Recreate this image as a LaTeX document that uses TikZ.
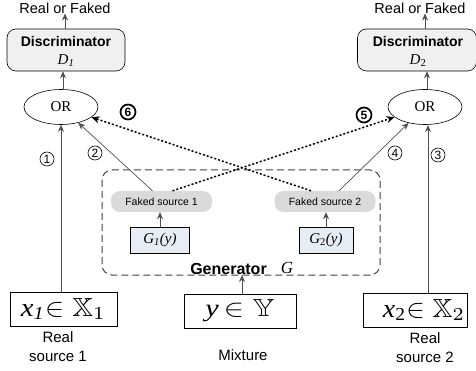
\documentclass[tikz,border=0pt]{standalone}
\usepackage{amssymb}
\usepackage{graphicx}
\usepackage{fontspec}
\setmainfont{Liberation Sans}
\newfontfamily\serif{Liberation Serif}
\usetikzlibrary{arrows.meta,calc,shapes.geometric}
\definecolor{arrgray}{HTML}{505050}
\definecolor{discfill}{HTML}{F0F0F0}
\definecolor{fsfill}{HTML}{DADADA}
\definecolor{gfill}{HTML}{E8ECF4}
\definecolor{dashgray}{HTML}{404040}
\begin{document}
\begin{tikzpicture}[x=1pt,y=-1pt,
 arr/.style={draw=arrgray,line width=0.7pt,-{Stealth[length=7pt,width=6pt]}},
 dotarr/.style={draw=black,line width=1.5pt,dash pattern=on 2pt off 2pt,-{Stealth[length=8pt,width=7pt]}},
 disc/.style={draw=black,fill=discfill,rounded corners=9pt,minimum width=118pt,minimum height=42pt,inner sep=0pt,line width=0.6pt},
 ornode/.style={draw,ellipse,minimum width=74pt,minimum height=35pt,inner sep=0pt,line width=0.6pt,font=\serif\fontsize{15}{15}\selectfont},
 fs/.style={fill=fsfill,rounded corners=9pt,minimum width=101pt,minimum height=21pt,inner sep=0pt,font=\fontsize{10.5}{10.5}\selectfont},
 gbox/.style={draw,fill=gfill,minimum height=26pt,inner sep=0pt,line width=0.6pt,font=\serif\itshape\fontsize{15}{15}\selectfont},
 inbox/.style={draw,minimum height=34pt,inner sep=0pt,line width=0.6pt},
 dtitle/.style={font=\bfseries\fontsize{14}{14}\selectfont,inner sep=0pt},
 dname/.style={font=\serif\itshape\fontsize{15}{15}\selectfont,inner sep=0pt},
 num/.style={circle,draw,line width=0.6pt,minimum size=14pt,inner sep=0pt,font=\fontsize{12}{12}\selectfont},
 bnum/.style={circle,draw,line width=1.7pt,minimum size=15pt,inner sep=0pt,font=\bfseries\fontsize{12}{12}\selectfont},
 lbl/.style={font=\fontsize{15}{19}\selectfont,align=center,inner sep=0pt}]
\useasboundingbox (0,0) rectangle (476,371);

% top labels
\node[lbl,font=\fontsize{14.5}{16}\selectfont] (rof1) at (65,8) {Real or Faked};
\node[lbl,font=\fontsize{14.5}{16}\selectfont] (rof2) at (420,8) {Real or Faked};

% discriminators
\node[disc] (D1) at (66,50) {};
\node[dtitle] (D1t) at (66,41) {Discriminator};
\node[dname] (D1n) at (66,61) {D\textsubscript{1}};
\node[disc,minimum width=119pt] (D2) at (417,50) {};
\node[dtitle] (D2t) at (418,41) {Discriminator};
\node[dname] (D2n) at (418,61) {D\textsubscript{\upshape 2}};

% OR nodes
\node[ornode] (OR1) at (61,107) {OR};
\node[ornode] (OR2) at (425,107) {OR};

% generator frame
\draw[dashgray,line width=1pt,dash pattern=on 7pt off 4pt,rounded corners=10pt] (102,170) rectangle (380,275);
\node[font=\bfseries\fontsize{16}{16}\selectfont,inner sep=0pt] (gen) at (228.5,268.5) {Generator};
\node[font=\serif\itshape\fontsize{17}{17}\selectfont,inner sep=0pt] (gname) at (287,268) {G};

% faked sources and generators
\node[fs] (FS1) at (161.5,201.5) {Faked source 1};
\node[fs] (FS2) at (325,201.5) {Faked source 2};
\node[gbox,minimum width=59pt] (G1) at (160,240) {G\textsubscript{1}(y)};
\node[gbox,minimum width=54pt] (G2) at (326,240) {G\textsubscript{\upshape 2}(y)};

% input boxes
\node[inbox,minimum width=107pt] (x1) at (63.5,309) {\resizebox{85pt}{18pt}{{\serif\itshape x\textsubscript{1}}$\in\mathbb{X}_1$}};
\node[inbox,minimum width=104pt] (x2) at (415,310) {\hspace{18pt}\resizebox{82pt}{18pt}{{\serif\itshape x\textsubscript{\upshape 2}}$\in\mathbb{X}_2$}};
\node[inbox,minimum width=112pt] (y) at (240,311) {\resizebox{69pt}{17pt}{{\serif\itshape y\,}$\in\mathbb{Y}$}};

% bottom labels
\node[lbl] (rs1) at (58,347) {Real\\source 1};
\node[lbl] (mix) at (243,355) {Mixture};
\node[lbl] (rs2) at (425,348) {Real\\source 2};

% arrows
\draw[arr] (rof1.south |- D1.north) -- (rof1.south);
\draw[arr] (D2.north -| OR2.north) -- (OR2.north |- rof2.south);
\draw[arr] (OR1.north) ++(2,0) -- ($(OR1.north |- D1.south)+(2,0)$);
\draw[arr] (OR2.north) ++(2,0) -- ($(OR2.north |- D2.south)+(2,0)$);
\draw[arr] (OR1.south |- x1.north) -- (OR1.south);
\draw[arr] ($(OR2.south |- x2.north)+(3,0)$) -- ($(OR2.south)+(3,0.3)$);
\draw[arr] (G1.north) -- (G1.north |- FS1.south);
\draw[arr] (G2.north) -- (G2.north |- FS2.south);
\coordinate (gin) at (242,275);
\draw[arr] (y.north -| gin) -- (gin);
\draw[arr] ($(FS1.north)+(-9,0)$) -- (OR1);
\draw[arr] ($(FS2.north)+(14,0)$) -- (OR2);
\draw[dotarr] ($(FS2.north)+(-14,0)$) -- (OR1);
\draw[dotarr] ($(FS1.north)+(11,0)$) -- (OR2);

% number labels
\node[num] (n1) at (47,159) {1};
\node[num] (n2) at (95,153) {2};
\node[num] (n3) at (438,155) {3};
\node[num] (n4) at (395,153) {4};
\node[bnum] (n5) at (364,115) {5};
\node[bnum] (n6) at (128,112) {6};
\end{tikzpicture}
\end{document}
